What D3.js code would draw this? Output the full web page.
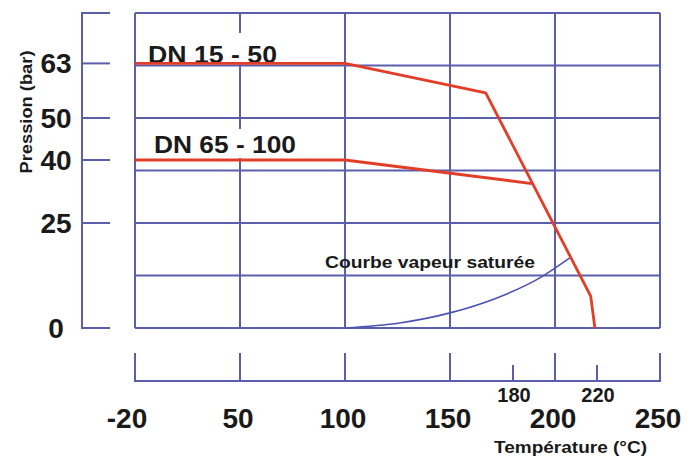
<!DOCTYPE html>
<html><head><meta charset="utf-8">
<script src="https://cdn.jsdelivr.net/npm/d3@7"></script>
<style>html,body{margin:0;padding:0;background:#fff;}svg{display:block;font-family:"Liberation Sans",Arial,sans-serif;font-weight:bold;}</style>
</head><body><svg id="c" width="696" height="457"></svg>
<script>
// Data
const xGridTemps = [-20, 50, 100, 150, 200, 250];
const xMinorTemps = [180, 220];
const yGridVals = [0, 12.5, 25, 37.5, 50, 62.5, 75];
const yTickVals = [0, 25, 40, 50, 63];
const yStubVals = [0, 25, 40, 50, 63, 75];
const dn15_50 = [[-20, 63], [100, 63], [167, 56], [217, 7.6], [219, 0]];
const dn65_100 = [[-20, 40], [100, 40], [189, 34.4]];
const vapeur = [[100, 0], [126, 1.2], [150, 3.6], [172, 7.1], [193, 12], [207, 16.7]];

const svg = d3.select("#c");
const x = d3.scaleLinear().domain([-20, 50, 250]).range([135, 240, 660]);
const y = d3.scaleLinear().domain([0, 75]).range([328, 13]);
const gridCol = "#5b5eab", redCol = "#e23d27", blueCol = "#4b52b3";

// grid
const g = svg.append("g");
g.selectAll(".vg").data(xGridTemps).join("line")
  .attr("x1", d => x(d)).attr("x2", d => x(d)).attr("y1", y(75)).attr("y2", y(0))
  .attr("stroke", gridCol).attr("stroke-width", 2);
g.selectAll(".hg").data(yGridVals).join("line")
  .attr("x1", x(-20)).attr("x2", x(250)).attr("y1", d => y(d)).attr("y2", d => y(d))
  .attr("stroke", gridCol).attr("stroke-width", 2);

// left axis
const la = svg.append("g");
la.append("line").attr("x1", 82).attr("x2", 82).attr("y1", y(75)).attr("y2", y(0))
  .attr("stroke", gridCol).attr("stroke-width", 2);
la.selectAll(".st").data(yStubVals).join("line")
  .attr("x1", 81).attr("x2", 110).attr("y1", d => y(d)).attr("y2", d => y(d))
  .attr("stroke", gridCol).attr("stroke-width", 2);
la.selectAll("text").data(yTickVals).join("text")
  .attr("x", 56).attr("y", d => y(d)).attr("dy", "0.36em")
  .attr("text-anchor", "middle").attr("font-size", 28).attr("fill", "#1a1a1a")
  .text(d => d);
svg.append("text").attr("transform", "translate(32,112) rotate(-90)")
  .attr("text-anchor", "middle").attr("font-size", 16).attr("fill", "#1a1a1a")
  .attr("textLength", 123).attr("lengthAdjust", "spacingAndGlyphs")
  .text("Pression (bar)");

// bottom axis
const ba = svg.append("g");
ba.append("line").attr("x1", x(-20) - 1).attr("x2", x(250) + 1).attr("y1", 381).attr("y2", 381)
  .attr("stroke", gridCol).attr("stroke-width", 2);
ba.selectAll(".mj").data(xGridTemps).join("line")
  .attr("x1", d => x(d)).attr("x2", d => x(d)).attr("y1", 353).attr("y2", 381)
  .attr("stroke", gridCol).attr("stroke-width", 2);
ba.selectAll(".mn").data(xMinorTemps).join("line")
  .attr("x1", d => x(d)).attr("x2", d => x(d)).attr("y1", 365).attr("y2", 381)
  .attr("stroke", gridCol).attr("stroke-width", 2);
ba.selectAll(".ml").data(xGridTemps).join("text")
  .attr("x", d => x(d) - (d < 0 ? 8 : 2)).attr("y", 428)
  .attr("text-anchor", "middle").attr("font-size", 28).attr("fill", "#1a1a1a")
  .text(d => d);
ba.selectAll(".nl").data(xMinorTemps).join("text")
  .attr("x", d => x(d) + 1).attr("y", 402)
  .attr("text-anchor", "middle").attr("font-size", 20).attr("fill", "#1a1a1a")
  .text(d => d);
svg.append("text").attr("x", 494).attr("y", 453)
  .attr("font-size", 17).attr("fill", "#1a1a1a")
  .attr("textLength", 153).attr("lengthAdjust", "spacingAndGlyphs")
  .text("Température (°C)");

// label backgrounds & labels
svg.append("rect").attr("x", 144).attr("y", 33).attr("width", 138).attr("height", 30).attr("fill", "#fff");
svg.append("rect").attr("x", 150).attr("y", 129).attr("width", 150).attr("height", 29).attr("fill", "#fff");
svg.append("text").attr("x", 148).attr("y", 63).attr("font-size", 23).attr("fill", "#1a1a1a")
  .attr("textLength", 129).attr("lengthAdjust", "spacingAndGlyphs").text("DN 15 - 50");
svg.append("text").attr("x", 154).attr("y", 153).attr("font-size", 23).attr("fill", "#1a1a1a")
  .attr("textLength", 142).attr("lengthAdjust", "spacingAndGlyphs").text("DN 65 - 100");
svg.append("text").attr("x", 325).attr("y", 268).attr("font-size", 16).attr("fill", "#1a1a1a")
  .attr("textLength", 210).attr("lengthAdjust", "spacingAndGlyphs").text("Courbe vapeur saturée");

// curves
const line = d3.line().x(d => x(d[0])).y(d => y(d[1]));
svg.append("path").datum(vapeur)
  .attr("d", line.curve(d3.curveMonotoneX)).attr("fill", "none")
  .attr("stroke", blueCol).attr("stroke-width", 1.6);
const lineR = d3.line().x(d => x(d[0])).y(d => y(d[1]));
svg.append("path").datum(dn65_100).attr("d", lineR).attr("fill", "none")
  .attr("stroke", redCol).attr("stroke-width", 2.8).attr("stroke-linejoin", "round");
svg.append("path").datum(dn15_50).attr("d", lineR).attr("fill", "none")
  .attr("stroke", redCol).attr("stroke-width", 2.8).attr("stroke-linejoin", "round");
</script></body></html>
